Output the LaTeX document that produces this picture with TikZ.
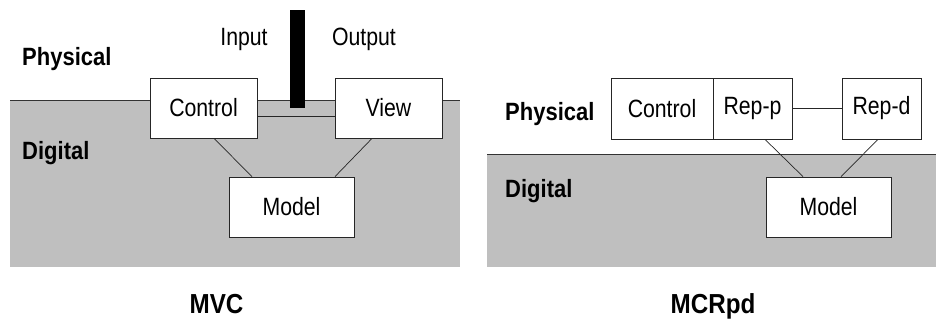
\documentclass[tikz,border=0pt]{standalone}
\usepackage{fontspec}
\setmainfont{Liberation Sans}[FakeStretch=0.85,BoldFeatures={FakeStretch=0.88}]
\begin{document}
\begin{tikzpicture}[x=1pt,y=-1pt,
  box/.style={draw=black!85,line width=0.8pt,fill=white,inner sep=0pt,
    font=\fontsize{25}{27}\selectfont},
  link/.style={draw=black!85,line width=0.7pt},
  layer/.style={fill=black!25},
  layerline/.style={draw=black!80,line width=0.8pt},
  side/.style={inner sep=0pt,anchor=base west,font=\fontsize{25}{27}\selectfont\bfseries},
  io/.style={inner sep=0pt,anchor=base,font=\fontsize{25}{27}\selectfont},
  title/.style={inner sep=0pt,anchor=base,font=\fontsize{27.5}{30}\selectfont\bfseries}]
\useasboundingbox (0,0) rectangle (936,322);

% ---- MVC panel ----
\fill[layer] (10,100) rectangle (460,267);
\draw[layerline] (10,100) -- (460,100);
\node[side] (phys1) at (22,65) {Physical};
\node[side] (dig1) at (22,159) {Digital};
\node[io] (inp) at (244,45) {Input};
\node[io] (outp) at (364,45) {Output};
\fill[black] (290,10) rectangle (305,108);

\node[box,minimum width=107pt,minimum height=60pt] (ctrl) at (203.5,108) {Control};
\node[box,minimum width=107pt,minimum height=60pt] (view) at (388.5,108) {View};
\node[box,minimum width=125pt,minimum height=60pt] (model) at (291.5,207) {Model};

\draw[link] ([yshift=-8pt]ctrl.east) -- ([yshift=-8pt]view.west);
\draw[link] ([xshift=10.5pt]ctrl.south) -- ([xshift=-39.5pt]model.north);
\draw[link] ([xshift=-16.5pt]view.south) -- ([xshift=43.5pt]model.north);

\node[title] (mvc) at (216.5,313) {MVC};

% ---- MCRpd panel ----
\fill[layer] (487,154) rectangle (936,267);
\draw[layerline] (487,154) -- (936,154);
\node[side] (phys2) at (505,120) {Physical};
\node[side] (dig2) at (505,197) {Digital};

\node[box,minimum width=102pt,minimum height=61pt] (ctrl2) at (662,108.5) {Control};
\node[box,minimum width=79pt,minimum height=61pt] (repp) at (752.5,108.5) {Rep-p};
\node[box,minimum width=79pt,minimum height=61pt] (repd) at (881.5,108.5) {Rep-d};
\node[box,minimum width=125pt,minimum height=60pt] (model2) at (828.5,207) {Model};

\draw[link] (repp.east) -- (repd.west);
\draw[link] ([xshift=12.5pt]repp.south) -- ([xshift=-25.5pt]model2.north);
\draw[link] ([xshift=-3.5pt]repd.south) -- ([xshift=12.5pt]model2.north);

\node[title] (mcrpd) at (713,313) {MCRpd};
\end{tikzpicture}
\end{document}
